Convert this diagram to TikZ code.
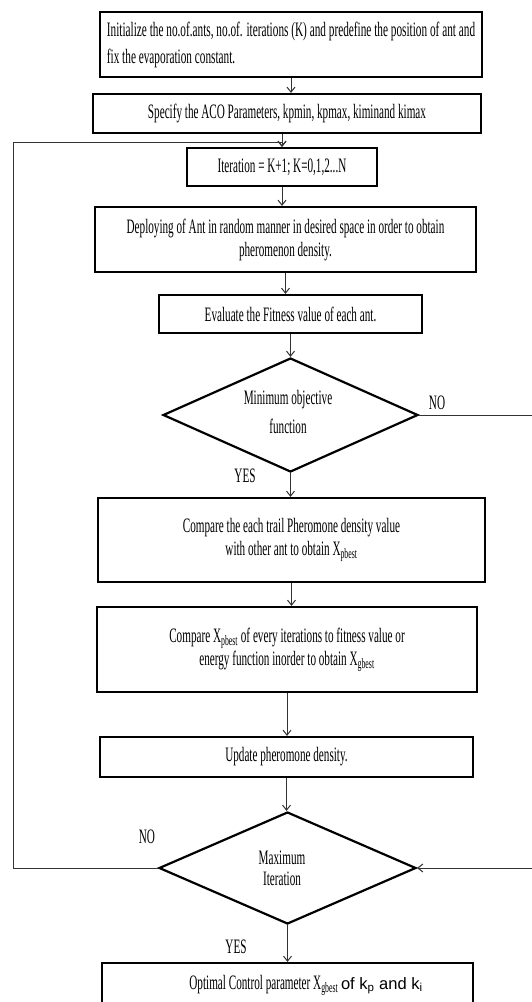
\documentclass[tikz,border=0pt]{standalone}
\usepackage{fontspec}
\setmainfont{Liberation Serif}[FakeStretch=0.545]
\newfontfamily\condb{Liberation Serif}[FakeStretch=0.55]
\newfontfamily\sansc{Liberation Sans}[FakeStretch=1.0]
\usetikzlibrary{shapes.geometric,arrows.meta}
\tikzset{
  txt/.style={font=\fontsize{20.5pt}{23pt}\selectfont, inner sep=0pt},
  box/.style={txt, draw, line width=2.2pt, align=center},
  dia/.style={diamond, draw, line width=2.2pt, inner sep=0pt},
  conn/.style={line width=1pt, draw=black!80, -{Straight Barb[length=5pt,width=8pt]}},
  lbl/.style={txt}
}
\begin{document}
\begin{tikzpicture}[x=1pt,y=-1pt]
\useasboundingbox (0,0) rectangle (531,1002);
\node[box, minimum width=382pt, minimum height=65pt, align=left, font=\fontsize{20.5pt}{27pt}\condb] (b1) at (291,44.5)
  {Initialize the no.of.ants, no.of. iterations (K) and predefine the position of ant and\\fix the evaporation constant.};
\node[box, minimum width=388pt, minimum height=39pt] (b2) at (287,113.5)
  {Specify the ACO Parameters, kpmin, kpmax, kiminand kimax};
\node[box, minimum width=190pt, minimum height=38pt] (it) at (282,167)
  {Iteration = K+1; K=0,1,2...N};
\node[box, minimum width=381pt, minimum height=65pt] (dep) at (285.5,239.5)
  {Deploying of Ant in random manner in desired space in order to obtain\\pheromenon density.};
\node[box, minimum width=263pt, minimum height=38pt] (ev) at (290.5,314)
  {Evaluate the Fitness value of each ant.};
\node[dia, minimum width=255pt, minimum height=114pt] (d1) at (290.5,415) {};
\node[txt, align=center, font=\fontsize{20.5pt}{29pt}\selectfont] (d1t) at (288,412) {Minimum objective\\function};
\node[box, minimum width=387pt, minimum height=84pt] (c1) at (291.5,540)
  {Compare the each trail Pheromone density value\\with other ant to obtain X\textsubscript{pbest}};
\node[box, minimum width=380pt, minimum height=85pt] (c2) at (287,649.5)
  {Compare X\textsubscript{pbest} of every iterations to fitness value or\\energy function inorder to obtain X\textsubscript{gbest}};
\node[box, minimum width=373pt, minimum height=40pt] (up) at (286.5,757)
  {Update pheromone density.};
\node[dia, minimum width=257pt, minimum height=112pt] (d2) at (287.5,868) {};
\node[txt, align=center, font=\fontsize{20.5pt}{21pt}\selectfont] (d2t) at (282,868) {Maximum\\Iteration};
\node[box, minimum width=371pt, minimum height=50pt] (fin) at (287.5,988) {};
\node[txt] (fint) at (306,985)
  {Optimal Control parameter X\textsubscript{gbest} {\sansc\fontsize{16.5pt}{18pt}\selectfont of k\textsubscript{p} and k\textsubscript{i}}};
\node[lbl] (no1) at (437,403) {NO};
\node[lbl] (yes1) at (245,476) {YES};
\node[lbl] (no2) at (147,837) {NO};
\node[lbl] (yes2) at (236,947) {YES};
\coordinate (fbx) at (13,142);
\coordinate (rx) at (533,415);
\draw[conn] (b1.south) -- (b1.south |- b2.north);
\draw[conn] (b2.south -| it.north) -- (it.north);
\draw[conn] (it.south) -- (it.south |- dep.north);
\draw[conn] (dep.south) -- (dep.south |- ev.north);
\draw[conn] (ev.south) -- (d1.north);
\draw[conn] (d1.south) -- (d1.south |- c1.north);
\draw[conn] (c1.south) -- (c1.south |- c2.north);
\draw[conn] (c2.south) -- (c2.south |- up.north);
\draw[conn] (up.south) -- (up.south |- d2.north);
\draw[conn] (d2.south) -- (d2.south |- fin.north);
\draw[conn] (d2.west) -| (fbx) -- (fbx -| it.north) -- (it.north);
\draw[conn] (d1.east) -- (rx) |- (d2.east);
\end{tikzpicture}
\end{document}
